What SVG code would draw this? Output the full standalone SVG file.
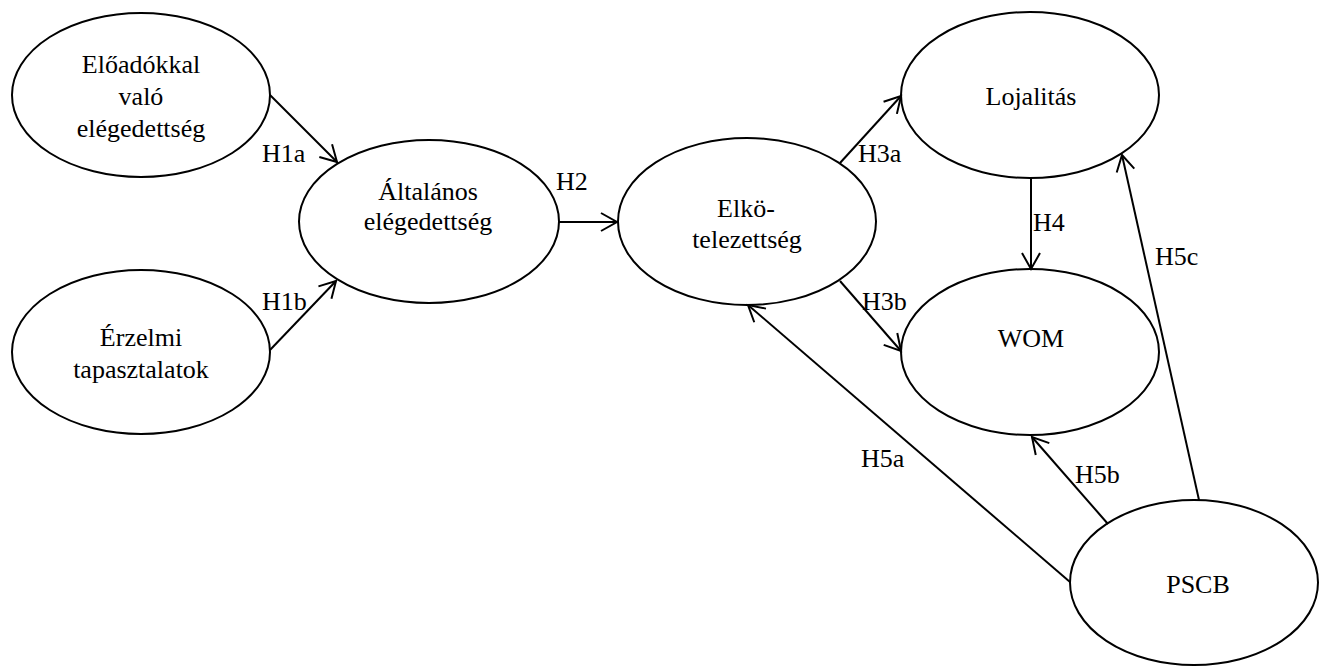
<svg xmlns="http://www.w3.org/2000/svg" width="1320" height="667" viewBox="0 0 1320 667">
<style>
.node ellipse{fill:#fff;stroke:#000;stroke-width:2}
text{font-family:'Liberation Serif','Times New Roman',Tinos,'DejaVu Serif','Noto Serif',serif;font-size:26px;fill:#000}
.c{text-anchor:middle}
.edges line{stroke:#000;stroke-width:2;marker-end:url(#arr)}
</style>
<defs>
<marker id="arr" markerUnits="userSpaceOnUse" markerWidth="24" markerHeight="24" viewBox="-20 -12 24 24" refX="0" refY="0" orient="auto">
<path d="M-16,-9 L0,0 L-16,9" fill="none" stroke="#000" stroke-width="2"/>
</marker>
</defs>
<rect width="1320" height="667" fill="#fff"/>
<g font-family="Liberation Serif, Times New Roman, DejaVu Serif, serif">
<g id="n-eloadokkal" class="node">
<ellipse cx="141" cy="95" rx="129" ry="82"/>
<text class="c" x="141" y="73">Előadókkal</text>
<text class="c" x="141" y="105">való</text>
<text class="c" x="141" y="137">elégedettség</text>
</g>
<g id="n-erzelmi" class="node">
<ellipse cx="141" cy="352" rx="129" ry="82"/>
<text class="c" x="141" y="346">Érzelmi</text>
<text class="c" x="141" y="378">tapasztalatok</text>
</g>
<g id="n-altalanos" class="node">
<ellipse cx="429" cy="221.5" rx="130" ry="81.5"/>
<text class="c" x="428" y="200">Általános</text>
<text class="c" x="428" y="230">elégedettség</text>
</g>
<g id="n-elkotelezettseg" class="node">
<ellipse cx="747" cy="221.5" rx="129" ry="83.5"/>
<text class="c" x="746" y="217">Elkö-</text>
<text class="c" x="747" y="248">telezettség</text>
</g>
<g id="n-lojalitas" class="node">
<ellipse cx="1030" cy="95" rx="129" ry="83"/>
<text class="c" x="1031" y="105">Lojalitás</text>
</g>
<g id="n-wom" class="node">
<ellipse cx="1030" cy="352" rx="129" ry="83"/>
<text class="c" x="1031" y="347">WOM</text>
</g>
<g id="n-pscb" class="node">
<ellipse cx="1194" cy="582.5" rx="124" ry="82.5"/>
<text class="c" x="1198" y="593">PSCB</text>
</g>
<g id="connectors" class="edges">
<line x1="270" y1="95" x2="337" y2="162"/>
<line x1="270" y1="350" x2="336" y2="281"/>
<line x1="559" y1="222" x2="617" y2="222"/>
<line x1="840" y1="163" x2="901" y2="96"/>
<line x1="840" y1="281" x2="901" y2="351"/>
<line x1="1031" y1="178" x2="1031" y2="269"/>
<line x1="1070" y1="582" x2="748" y2="305"/>
<line x1="1108" y1="524" x2="1032" y2="437"/>
<line x1="1199" y1="500" x2="1122" y2="155"/>
</g>
<g id="labels">
<text x="262" y="162">H1a</text>
<text x="262" y="310">H1b</text>
<text x="556" y="190">H2</text>
<text x="858" y="162">H3a</text>
<text x="862" y="310">H3b</text>
<text x="1033" y="231">H4</text>
<text x="861" y="467">H5a</text>
<text x="1075" y="483">H5b</text>
<text x="1155" y="265">H5c</text>
</g>
</g>
</svg>
